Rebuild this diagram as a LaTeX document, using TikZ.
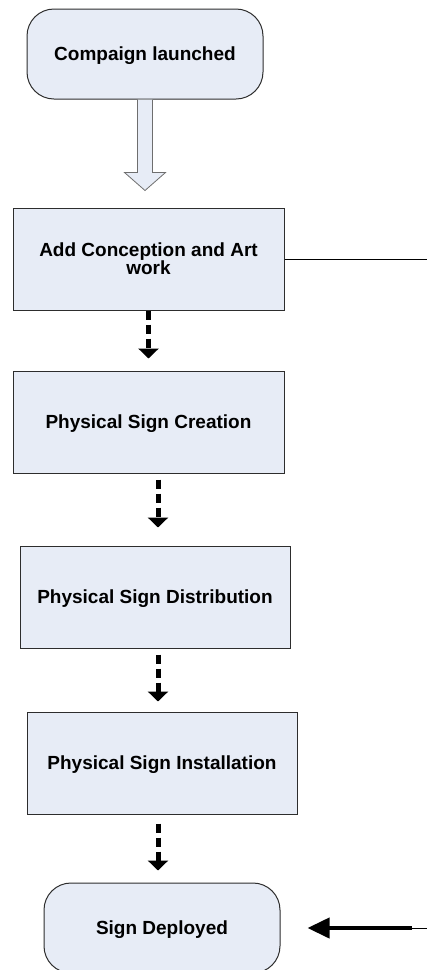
\documentclass[tikz,border=0pt]{standalone}
\usepackage{fontspec}
\setmainfont{Liberation Sans}
\usetikzlibrary{arrows.meta}
\definecolor{boxfill}{RGB}{231,236,246}
\definecolor{boxline}{RGB}{45,45,45}
\definecolor{hollowline}{RGB}{110,110,110}
\tikzset{
  base/.style={draw=boxline, line width=1pt, fill=boxfill, inner sep=0pt, align=center,
               text height=13.5pt, text depth=0pt,
               font=\bfseries\fontsize{19}{18}\selectfont},
  procbox/.style={base, rectangle, minimum width=#1, minimum height=102pt},
  term/.style={base, rounded corners=27pt, minimum width=236pt, minimum height=90pt},
  flow/.style={line width=5pt, dash pattern=on 9pt off 5pt, -{Triangle[width=20pt,length=10pt]}},
  feed/.style={line width=4pt, -{Triangle[width=20pt,length=22pt]}},
  link/.style={line width=1pt},
  hollow/.style={draw=hollowline, fill=boxfill, line width=0.8pt, line join=miter}
}
\begin{document}
\begin{tikzpicture}[x=1pt, y=-1pt]
  \useasboundingbox (0,0) rectangle (427,970);
  \clip (0,0) rectangle (427,970);

  % process steps
  \node[term] (start) at (145,54) {Compaign launched};
  \node[procbox=271pt, text height=31.5pt] (art) at (148.5,259) {Add Conception and Art\\work};
  \node[procbox=271pt] (make) at (148.5,422) {Physical Sign Creation};
  \node[procbox=270pt] (dist) at (155,597) {Physical Sign Distribution};
  \node[procbox=270pt] (inst) at (162,763) {Physical Sign Installation};
  \node[term] (done) at (162,928) {Sign Deployed};

  % outside links
  \coordinate (artout) at (427,259);
  \coordinate (feedin) at (427,928);
  \coordinate (feedjoin) at (412,928);

  % hollow block arrow below the start terminal
  \path[hollow] (start.south) ++(-7.5,0) -- ++(0,73) -- ++(-13,0) -- ++(20.5,18)
        -- ++(20.5,-18) -- ++(-13,0) -- ++(0,-73);

  % dashed flow arrows
  \draw[flow] (art.south) -- ++(0,48);
  \draw[flow] ([xshift=9.5pt,yshift=-6pt]make.south) -- ++(0,48);
  \draw[flow] ([xshift=3pt,yshift=-6pt]dist.south) -- ++(0,47);
  \draw[flow] ([xshift=-4pt,yshift=-9pt]inst.south) -- ++(0,47);

  % side connections
  \draw[link] (art.east) -- (artout);
  \draw[link] (feedin) -- (feedjoin);
  \draw[feed] (feedjoin) -- ([xshift=27pt]done.east);
\end{tikzpicture}
\end{document}
